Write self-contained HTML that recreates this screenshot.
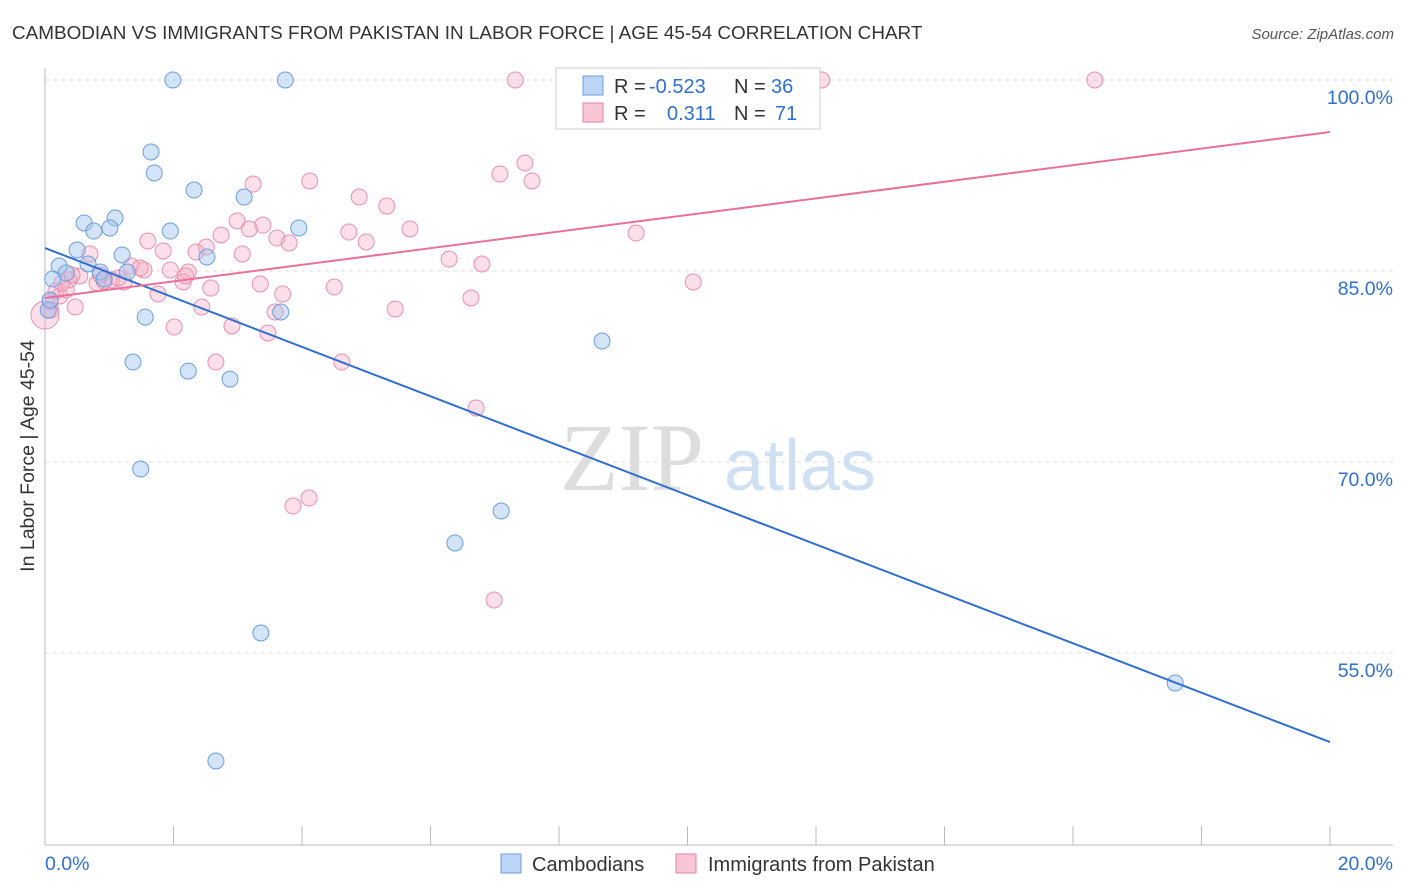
<!DOCTYPE html>
<html><head><meta charset="utf-8"><style>
body{margin:0;background:#fff;font-family:"Liberation Sans",sans-serif}
svg{display:block}
</style></head><body>
<svg id="c" width="1406" height="892">
<text x="12" y="39" font-size="18.9" fill="#333">CAMBODIAN VS IMMIGRANTS FROM PAKISTAN IN LABOR FORCE | AGE 45-54 CORRELATION CHART</text>
<text x="1394" y="39" font-size="15" fill="#555" font-style="italic" text-anchor="end">Source: ZipAtlas.com</text>
<text x="34" y="456" font-size="19.5" fill="#333" text-anchor="middle" transform="rotate(-90 34 456)">In Labor Force | Age 45-54</text>
<g><text x="632" y="490" font-size="96" fill="#ddd" font-family="Liberation Serif,serif" text-anchor="middle">ZIP</text><text x="800" y="490" font-size="72" fill="#cfe0f3" text-anchor="middle">atlas</text></g>
<g id="grid"></g><g id="axes"></g><g id="pts"></g><g id="lines"></g>
<g font-size="20">
<rect x="556" y="68" width="264" height="61" fill="#fff" stroke="#ccc"/>
<rect x="583" y="76" width="20" height="19" fill="#bcd4f5" stroke="#6a9ee0"/>
<rect x="583" y="103" width="20" height="19" fill="#f9c6d5" stroke="#e87fa0"/>
<text x="614" y="93" fill="#333">R =</text><text x="649" y="93" fill="#2f6fd0">-0.523</text>
<text x="734" y="93" fill="#333">N =</text><text x="771" y="93" fill="#2f6fd0">36</text>
<text x="614" y="120" fill="#333">R =</text><text x="667" y="120" fill="#2f6fd0">0.311</text>
<text x="734" y="120" fill="#333">N =</text><text x="775" y="120" fill="#2f6fd0">71</text>
</g>
<g>
<rect x="501" y="854" width="20" height="19" fill="#bcd4f5" stroke="#6a9ee0"/>
<text x="532" y="871" font-size="20" fill="#333">Cambodians</text>
<rect x="676" y="854" width="20" height="19" fill="#f9c6d5" stroke="#e87fa0"/>
<text x="708" y="871" font-size="20" fill="#333">Immigrants from Pakistan</text>
</g>
</svg>
<script>
const yTicks=[100,85,70,55];
const yTickLabels=["100.0%","85.0%","70.0%","55.0%"];
const xTickLabels=["0.0%","20.0%"];
const blueX=[1.99,3.74,1.65,1.70,2.32,3.10,0.61,1.09,0.76,1.01,1.95,3.95,0.50,1.20,2.52,0.22,0.67,0.33,0.86,1.28,0.12,0.92,0.05,1.56,3.67,1.37,2.23,2.88,8.67,1.49,7.10,6.38,3.36,2.66,17.59,0.08];
const blueY=[100,100,94.35,92.7,91.36,90.81,88.77,89.16,88.14,88.38,88.14,88.38,86.65,86.26,86.1,85.39,85.55,84.84,84.92,84.92,84.37,84.37,81.93,81.38,81.78,77.85,77.14,76.51,79.5,69.45,66.15,63.64,56.57,46.52,52.64,82.72];
const pinkX=[7.32,12.09,16.34,7.47,7.08,7.58,3.24,4.12,4.89,5.32,2.99,3.39,5.68,4.73,2.74,3.18,3.61,3.80,5.00,1.60,2.51,3.07,1.84,2.35,0.70,6.29,6.80,9.20,1.34,1.95,2.23,1.54,0.54,1.04,1.23,2.15,2.58,0.81,0.37,3.35,4.50,1.76,3.70,6.63,2.44,5.45,3.58,0.17,0.23,0.47,0.09,2.01,2.91,3.47,2.66,4.62,6.71,3.86,4.11,6.99,10.09,0.08,0.0,0.92,1.48,1.14,0.33,2.19,0.26,0.42,0.86];
const pinkY=[100,100,100,93.48,92.62,92.07,91.83,92.07,90.81,90.10,88.93,88.61,88.30,88.06,87.83,88.30,87.59,87.20,87.28,87.36,86.88,86.33,86.57,86.49,86.33,85.94,85.55,87.98,85.39,85.08,84.92,85.08,84.61,84.29,84.14,84.14,83.66,84.06,84.29,83.98,83.74,83.19,83.19,82.88,82.17,82.02,81.78,83.43,83.04,82.17,81.93,80.60,80.68,80.13,77.85,77.85,74.24,66.54,67.17,59.16,84.14,82.57,81.54,84.21,85.24,84.45,83.51,84.61,84.06,84.69,84.69];
const blueLine=[86.8,48.0];
const pinkLine=[82.88,95.92];
const NS="http://www.w3.org/2000/svg";
const X=v=>45+v*64.25, Y=v=>80+(100-v)*12.733;
function mk(t,a,p){const e=document.createElementNS(NS,t);for(const k in a)e.setAttribute(k,a[k]);p.appendChild(e);return e;}
const grid=document.getElementById('grid'),axes=document.getElementById('axes'),pts=document.getElementById('pts'),lines=document.getElementById('lines');
yTicks.forEach((t,i)=>{
 const l=mk('line',{x1:45,x2:1393,y1:Y(t),y2:Y(t),stroke:'#ddd','stroke-dasharray':'4 4'},grid);
 
 
 const tx=mk('text',{x:1393,y:Y(t)+24,'font-size':19.5,fill:'#2f6fd0','text-anchor':'end'},axes);
 tx.textContent=yTickLabels[i];
 
 
});
mk('line',{x1:45,x2:45,y1:68,y2:845,stroke:'#bbb'},axes);
mk('line',{x1:45,x2:1393,y1:845,y2:845,stroke:'#bbb'},axes);
for(let i=1;i<=10;i++){const t=mk('line',{x1:X(i*2),x2:X(i*2),y1:826,y2:845,stroke:'#bbb'},axes);
 
 }
[[0,'start',45],[20,'end',1393]].forEach((d,i)=>{const t=mk('text',{x:d[2],y:870,'font-size':19.5,fill:'#2f6fd0','text-anchor':d[1]},axes);t.textContent=xTickLabels[i];
 
 });
pinkX.forEach((x,i)=>{const c=mk('circle',{cx:X(x),cy:Y(pinkY[i]),r:(i==62?14:8),fill:'rgba(248,175,198,0.4)',stroke:'#ec8fac','stroke-width':1},pts);
 
 });
blueX.forEach((x,i)=>{const c=mk('circle',{cx:X(x),cy:Y(blueY[i]),r:8,fill:'rgba(160,195,240,0.45)',stroke:'#6a9ee0','stroke-width':1},pts);
 
 });
const bl=mk('line',{x1:X(0),y1:Y(blueLine[0]),x2:X(20),y2:Y(blueLine[1]),stroke:'#2f6fd0','stroke-width':2},lines);


const pl=mk('line',{x1:X(0),y1:Y(pinkLine[0]),x2:X(20),y2:Y(pinkLine[1]),stroke:'#e8709a','stroke-width':2},lines);


</script>
</body></html>
